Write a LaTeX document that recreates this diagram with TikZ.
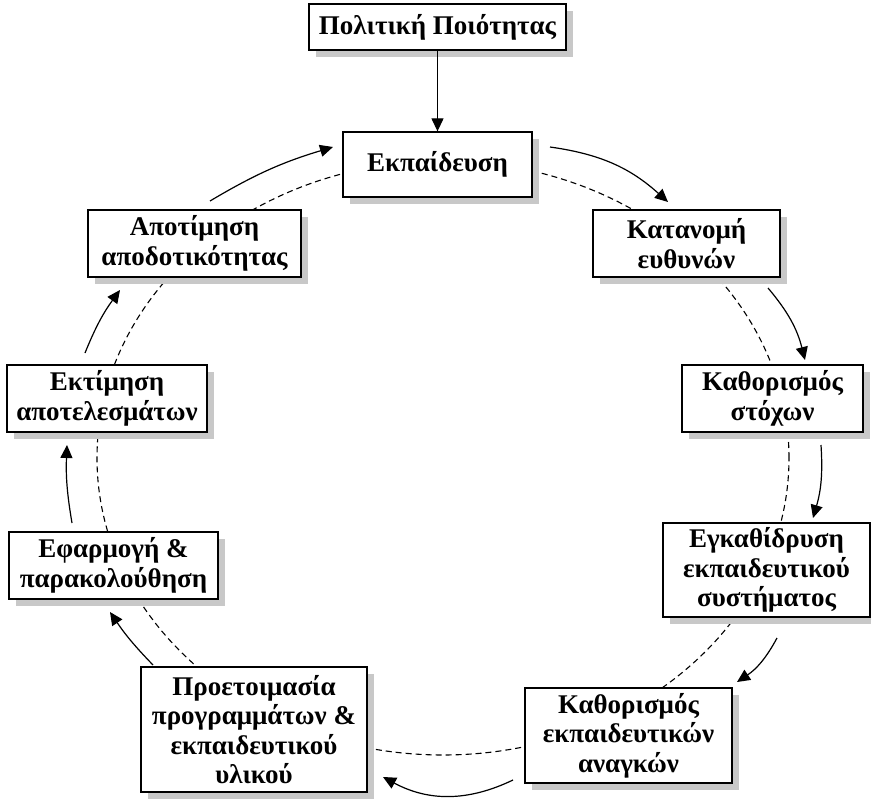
\documentclass[tikz,border=0pt]{standalone}
\usepackage{fontspec}
\setmainfont{Liberation Serif}
\usetikzlibrary{shadows,arrows.meta}
\definecolor{shadowgray}{RGB}{200,200,200}
\tikzset{
  box/.style={draw=black, line width=1.3pt, fill=white, align=center, inner sep=0pt,
    font=\fontsize{27}{29.5}\selectfont\bfseries,
    drop shadow={shadow xshift=7pt, shadow yshift=-7pt, fill=shadowgray, opacity=1}},
  arr/.style={line width=1.2pt, -{Triangle[length=13pt,width=12pt]}},
  ring/.style={line width=1.1pt, dash pattern=on 6pt off 4pt}
}
\begin{document}
\begin{tikzpicture}[x=1pt,y=-1pt]
\useasboundingbox (0,0) rectangle (871,800);
\fill[white] (0,0) rectangle (871,800);
\draw[ring] (443,458) ellipse [x radius=346pt, y radius=297pt];

\node[box, minimum width=257pt, minimum height=46pt] (pol) at (437.5,27) {Πολιτική Ποιότητας};
\node[box, minimum width=189pt, minimum height=65pt] (ekp) at (437.5,164.5) {Εκπαίδευση};
\node[box, minimum width=187pt, minimum height=67pt] (kat) at (686.5,243.5) {Κατανομή\\ευθυνών};
\node[box, minimum width=181pt, minimum height=67pt] (stox) at (772.5,398.5) {Καθορισμός\\στόχων};
\node[box, minimum width=207pt, minimum height=94pt] (egk) at (766.5,570) {Εγκαθίδρυση\\εκπαιδευτικού\\συστήματος};
\node[box, minimum width=207pt, minimum height=95pt] (anag) at (628.5,735.5) {Καθορισμός\\εκπαιδευτικών\\αναγκών};
\node[box, minimum width=226pt, minimum height=125pt] (proet) at (254,729.5) {Προετοιμασία\\προγραμμάτων \&\\εκπαιδευτικού\\υλικού};
\node[box, minimum width=209pt, minimum height=67pt] (efar) at (113.5,565.5) {Εφαρμογή \&\\παρακολούθηση};
\node[box, minimum width=200pt, minimum height=67pt] (ektim) at (107,398.5) {Εκτίμηση\\αποτελεσμάτων};
\node[box, minimum width=213pt, minimum height=67pt] (apot) at (194.5,243.5) {Αποτίμηση\\αποδοτικότητας};

\coordinate (s1) at (550,147); \coordinate (e1) at (668,202);
\coordinate (s2) at (768,288); \coordinate (e2) at (805,360);
\coordinate (s3) at (821,445); \coordinate (e3) at (813,518);
\coordinate (s4) at (777,638); \coordinate (e4) at (737,682);
\coordinate (s5) at (513,780); \coordinate (e5) at (383,777);
\coordinate (s6) at (153,665); \coordinate (e6) at (110,612);
\coordinate (s7) at (72,523);  \coordinate (e7) at (67,445);
\coordinate (s8) at (85,353);  \coordinate (e8) at (120,290);
\coordinate (s9) at (210,201); \coordinate (e9) at (333,147);

\draw[arr] (pol) -- (ekp);
\draw[arr] (s1) to[bend left=17] (e1);
\draw[arr] (s2) to[bend left=13] (e2);
\draw[arr] (s3) to[bend left=10] (e3);
\draw[arr] (s4) to[bend left=14] (e4);
\draw[arr] (s5) to[bend left=27] (e5);
\draw[arr] (s6) to[bend left=5] (e6);
\draw[arr] (s7) to[bend left=6] (e7);
\draw[arr] (s8) to[bend left=7] (e8);
\draw[arr] (s9) to[bend left=7] (e9);
\end{tikzpicture}
\end{document}
